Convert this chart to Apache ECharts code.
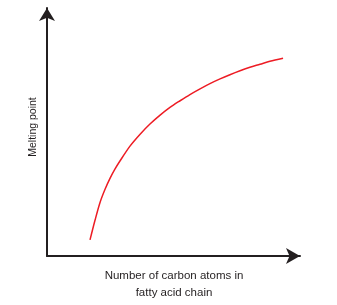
<!DOCTYPE html>
<html><head><meta charset="utf-8">
<script src="https://cdn.jsdelivr.net/npm/echarts@6/dist/echarts.min.js"></script>
<style>html,body{margin:0;padding:0;background:#fff}#c{width:337px;height:305px}</style>
</head><body><div id="c"></div>
<script>
// Relative units (0-100); no ticks shown in original.
var carbonAtoms = [17.0, 19.0, 20.9, 22.9, 24.9, 26.9, 28.9, 32.8, 36.8, 40.7, 44.7, 48.6, 52.6, 56.5, 60.5, 64.4, 68.4, 72.3, 76.3, 80.2, 84.2, 88.1, 93.3];
var meltingPoint = [6.5, 14.5, 21.4, 26.8, 31.3, 35.1, 38.4, 44.3, 49.1, 53.2, 56.8, 59.9, 62.6, 65.1, 67.4, 69.5, 71.4, 73.1, 74.7, 76.1, 77.3, 78.5, 79.7];
var xTitle = 'Number of carbon atoms in\nfatty acid chain';
var yTitle = 'Melting point';

var pts = carbonAtoms.map(function (x, i) { return [x, meltingPoint[i]]; });
var chart = echarts.init(document.getElementById('c'), null, {renderer: 'canvas'});
var axisCol = '#231f20';
chart.setOption({
  animation: false,
  grid: {left: 47, right: 37, top: 8, bottom: 49},
  xAxis: {type: 'value', min: 0, max: 100,
    axisLine: {show: true, symbol: ['none', 'arrow'], symbolSize: [12, 14], lineStyle: {color: axisCol, width: 2}},
    axisTick: {show: false}, axisLabel: {show: false}, splitLine: {show: false}},
  yAxis: {type: 'value', min: 0, max: 100,
    axisLine: {show: true, symbol: ['none', 'arrow'], symbolSize: [12, 13], lineStyle: {color: axisCol, width: 2}},
    axisTick: {show: false}, axisLabel: {show: false}, splitLine: {show: false}},
  graphic: [
    {type: 'text', x: 174, y: 267, style: {text: xTitle, fill: axisCol, font: '11.5px "Liberation Sans"', lineHeight: 17, textAlign: 'center', textVerticalAlign: 'top'}},
    {type: 'text', x: 33, y: 127, rotation: Math.PI / 2, style: {text: yTitle, fill: axisCol, font: '10.5px "Liberation Sans"', textAlign: 'center', textVerticalAlign: 'middle'}}
  ],
  series: [{type: 'line', data: pts, smooth: 0.3, symbol: 'none',
    lineStyle: {color: '#ed1c24', width: 1.5}}]
});
</script></body></html>
